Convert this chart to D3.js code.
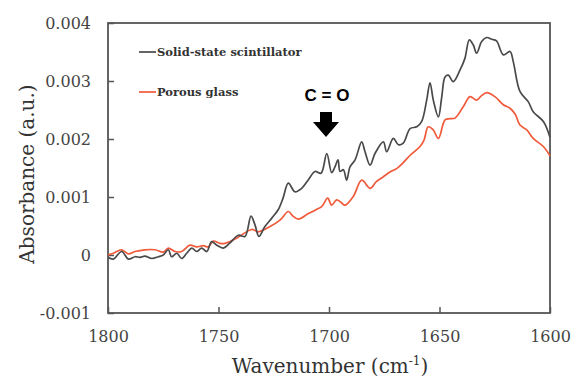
<!DOCTYPE html>
<html><head><meta charset="utf-8">
<script src="https://cdn.jsdelivr.net/npm/d3@7"></script>
<style>body{margin:0;background:#fff}</style>
</head><body>
<svg id="c" width="574" height="379"></svg>
<script>
const seriesNames = ["Solid-state scintillator", "Porous glass"];
const xTicks = [1800, 1750, 1700, 1650, 1600];
const yTicks = [-0.001, 0, 0.001, 0.002, 0.003, 0.004];
const yTickLabels = ["-0.001", "0", "0.001", "0.002", "0.003", "0.004"];

const solidWn = [1800,1797.6,1793.8,1790.8,1787.8,1785.5,1783.3,1780.2,1777.2,1775.0,1772.7,1771.2,1768.9,1766.7,1764.4,1762.1,1759.9,1757.6,1755.3,1753.1,1750.8,1747.8,1744.8,1741.0,1738.0,1735.3,1733.5,1731.7,1729.0,1725.8,1723.0,1720.8,1718.4,1715.4,1712.4,1709.5,1706.3,1703.6,1701.0,1698.8,1697.3,1695.9,1695.0,1693.5,1692.0,1690.5,1688.2,1685.2,1683.7,1681.4,1679.2,1675.4,1673.9,1670.9,1668.6,1666.4,1663.3,1660.3,1658.1,1655.8,1654.3,1652.8,1650.5,1649.0,1647.5,1646.0,1643.8,1640.7,1638.5,1636.5,1634.7,1633.2,1630.9,1628.6,1626.4,1624.2,1621.1,1618.1,1616.6,1613.6,1609.8,1607.6,1603.0,1600];
const solidAbs = [-0.00004,-0.00007,0.00006,-0.00007,-0.00003,-0.00004,-0.00002,-0.00006,-0.00003,0,0.00009,-0.00003,0.00003,-0.00006,0.00003,0.00012,0.00006,0.00012,0.00006,0.00023,0.00017,0.00012,0.00021,0.00034,0.00032,0.00067,0.00052,0.00032,0.00049,0.00064,0.00078,0.00098,0.00124,0.00109,0.00115,0.00129,0.00144,0.00141,0.00175,0.00142,0.00152,0.00164,0.00144,0.00147,0.00129,0.00152,0.00164,0.00195,0.00178,0.00155,0.00175,0.00195,0.00178,0.00201,0.00190,0.00193,0.00218,0.00221,0.00230,0.00267,0.00297,0.00267,0.00238,0.00272,0.00307,0.00310,0.00299,0.00319,0.00339,0.00371,0.00362,0.00348,0.00368,0.00375,0.00372,0.00369,0.00345,0.00351,0.00333,0.00282,0.00264,0.00247,0.00230,0.00203];

const glassWn = [1800,1797.6,1793.8,1790.8,1787.8,1783.3,1778.7,1775.0,1772.7,1769.7,1766.7,1762.9,1759.9,1756.9,1754.6,1752.4,1749.3,1747.1,1741.8,1735.0,1732.0,1726.7,1722.2,1718.4,1716.3,1713.9,1709.5,1705.9,1703.2,1700.6,1698.8,1696.6,1694.6,1692.8,1689.0,1685.2,1681.4,1678.7,1675.4,1672.4,1669.4,1666.5,1663.3,1658.8,1657.0,1655.1,1652.9,1650.5,1647.5,1645.3,1643.0,1639.2,1636.2,1633.2,1631.2,1628.6,1624.9,1621.1,1618.1,1615.8,1613.6,1610.6,1607.6,1603.0,1600];
const glassAbs = [0,0.00003,0.00009,0.00002,0.00006,0.00009,0.00009,0.00005,0.00012,0.00006,0.00006,0.00017,0.00014,0.00016,0.00014,0.00024,0.0002,0.0002,0.00029,0.00044,0.0004,0.00049,0.0006,0.00075,0.00067,0.00062,0.00071,0.00078,0.00084,0.00098,0.00086,0.00095,0.00091,0.00086,0.00101,0.00129,0.00115,0.00126,0.00135,0.00143,0.00149,0.00159,0.00172,0.00187,0.00198,0.00221,0.00216,0.00201,0.00233,0.00235,0.00236,0.00256,0.00273,0.00267,0.00274,0.0028,0.00273,0.00259,0.00253,0.00243,0.00224,0.00216,0.00201,0.00187,0.00171];

const colors = ["#4a4a4a", "#f05a3a"];
const L = 108, R = 550, T = 23, B = 313;
const svg = d3.select("#c");
const x = d3.scaleLinear().domain([1800, 1600]).range([L, R]);
const y = d3.scaleLinear().domain([-0.001, 0.004]).range([B, T]);
const serif = "DejaVu Serif, Liberation Serif, serif";
const axisCol = "#555";

svg.append("rect").attr("x", L).attr("y", T).attr("width", R - L).attr("height", B - T)
  .attr("fill", "none").attr("stroke", axisCol).attr("stroke-width", 1.8);

const yAxis = d3.axisLeft(y).tickValues(yTicks).tickSize(-6).tickPadding(17)
  .tickFormat((d, i) => yTickLabels[i]);
const gy = svg.append("g").attr("transform", `translate(${L},0)`).call(yAxis);
const xAxis = d3.axisBottom(x).tickValues(xTicks).tickSize(-6).tickPadding(18).tickFormat(d3.format("d"));
const gx = svg.append("g").attr("transform", `translate(0,${B})`).call(xAxis);
[gy, gx].forEach(g => {
  g.attr("font-family", serif).attr("font-size", 16);
  g.select(".domain").remove();
  g.selectAll(".tick line").attr("stroke", axisCol).attr("stroke-width", 1.5);
  g.selectAll(".tick text").attr("fill", "#444");
});

const line = d3.line().x(d => x(d[0])).y(d => y(d[1])).curve(d3.curveCatmullRom.alpha(0.5));
const data = [d3.zip(solidWn, solidAbs), d3.zip(glassWn, glassAbs)];
svg.append("g").selectAll("path").data(data.slice().reverse()).join("path")
  .attr("d", line).attr("fill", "none")
  .attr("stroke", (d, i) => colors[1 - i]).attr("stroke-width", 1.7);

const legY = [52, 92];
seriesNames.forEach((n, i) => {
  svg.append("line").attr("x1", 139).attr("x2", 156).attr("y1", legY[i]).attr("y2", legY[i])
    .attr("stroke", colors[i]).attr("stroke-width", 1.7);
  svg.append("text").attr("x", 157).attr("y", legY[i] + 4).text(n)
    .attr("font-family", serif).attr("font-size", 11.5).attr("font-weight", "bold").attr("fill", "#333");
});

svg.append("text").attr("x", 327).attr("y", 101).attr("text-anchor", "middle").text("C = O")
  .attr("font-family", "Liberation Sans, Arial, sans-serif").attr("font-size", 17).attr("font-weight", "bold").attr("fill", "#000");
const ax = 326;
svg.append("path").attr("d", `M${ax-6},112 L${ax+6},112 L${ax+6},122 L${ax+13},122 L${ax},137 L${ax-13},122 L${ax-6},122 Z`).attr("fill", "#000");

svg.append("text").attr("x", 330).attr("y", 373).attr("text-anchor", "middle")
  .attr("font-family", serif).attr("font-size", 20).attr("fill", "#333")
  .html('Wavenumber (cm<tspan dy="-8" font-size="12">-1</tspan><tspan dy="8">)</tspan>');
svg.append("text").attr("transform", "translate(34,174) rotate(-90)").attr("text-anchor", "middle")
  .attr("font-family", serif).attr("font-size", 20).attr("fill", "#333").text("Absorbance (a.u.)");
</script>
</body></html>
